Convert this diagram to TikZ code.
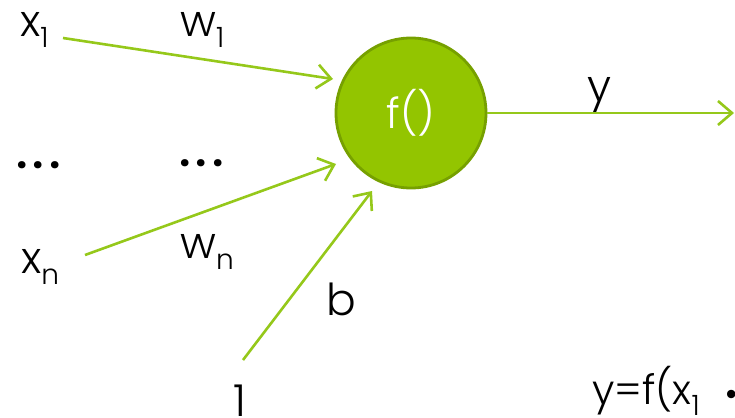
\documentclass[tikz,border=0pt]{standalone}
\usepackage{fontspec}
\setmainfont{Poppins Light}
\newfontfamily\dotfont{Poppins SemiBold}
\usetikzlibrary{arrows.meta}
\definecolor{nfill}{HTML}{93C500}
\definecolor{nborder}{HTML}{76A000}
\definecolor{arr}{HTML}{95C81A}
\newcommand{\mysub}[1]{\raisebox{-11pt}{\fontsize{28}{28}\selectfont #1}}
\newcommand{\mydots}{{\dotfont .\hspace{5pt}.\hspace{5pt}.}}
\tikzset{
  lbl/.style={font=\fontsize{44}{44}\selectfont, inner sep=0pt, anchor=base west, text=black},
  conn/.style={draw=arr, line width=2.6pt, -{Straight Barb[length=14pt,width=24pt,line width=2.6pt]}},
  neuron/.style={circle, fill=nfill, draw=nborder, line width=2.8pt, minimum size=150pt, inner sep=0pt,
    text=white, font=\fontsize{42}{42}\selectfont}
}
\begin{document}
\begin{tikzpicture}[x=1pt,y=-1pt]
\useasboundingbox (0,0) rectangle (735,417);
\clip (0,0) rectangle (735,417);
\node[neuron] (f) at (411,113) {f()};
\node[lbl] (x1) at (20,37) {x\mysub{1}};
\node[lbl] (w1) at (180,37) {w\mysub{1}};
\node[lbl] (dl) at (16,168) {\mydots};
\node[lbl] (dm) at (179,166) {\mydots};
\node[lbl] (xn) at (21,273) {x\mysub{n}};
\node[lbl] (wn) at (180,258) {w\mysub{n}};
\node[lbl] (bl) at (326,315) {b};
\node[lbl] (one) at (233,416) {1};
\node[lbl] (yl) at (587,102) {y};
\node[lbl, font=\fontsize{41}{41}\selectfont] (eq) at (592,404) {y=f(x\mysub{1}\hspace{25pt}{\dotfont\fontsize{30}{30}\selectfont •}};
\coordinate (x1s) at (63,38);
\coordinate (x1e) at (333,79);
\coordinate (xns) at (85,255);
\coordinate (xne) at (336,164);
\coordinate (bs) at (243,360);
\coordinate (be) at (372,191);
\coordinate (ye) at (734,113);
\draw[conn] (x1s) -- (x1e);
\draw[conn] (xns) -- (xne);
\draw[conn] (bs) -- (be);
\draw[conn] (f.east) -- (ye);
\end{tikzpicture}
\end{document}
